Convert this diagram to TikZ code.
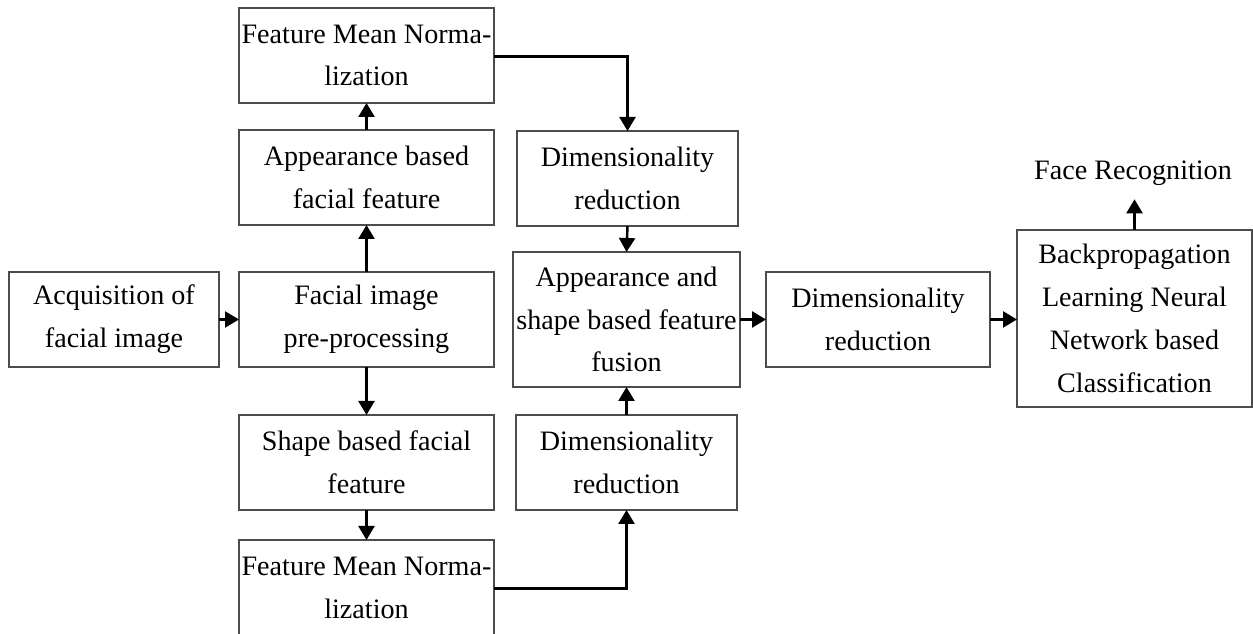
\documentclass[tikz,border=0pt]{standalone}
\usepackage{fontspec}
\setmainfont{Liberation Serif}
\usetikzlibrary{arrows.meta, positioning, calc}

\begin{document}
\begin{tikzpicture}[
  block/.style={
    rectangle, draw=black!70, line width=1.2pt, fill=white, outer sep=0pt,
    inner xsep=0pt, minimum height=1.9cm, align=center,
    font=\fontsize{16}{24.4}\selectfont,
  },
  link/.style={-{Triangle[length=0.28cm, width=0.32cm]}, line width=1.4pt, black},
]
  \useasboundingbox (0,0) rectangle (25.06,12.68);

  % left column
  \node[block, minimum width=4.2cm] (acq) at (2.28,6.29) {Acquisition of\\facial image};
  \node[block, minimum width=5.1cm] (pre) at (7.33,6.29) {Facial image\\pre-processing};
  \node[block, minimum width=5.1cm] (app) at (7.33,9.13) {Appearance based\\facial feature};
  \node[block, minimum width=5.1cm] (fmnA) at (7.33,11.57) {Feature Mean Norma-\\lization};
  \node[block, minimum width=5.1cm] (shp) at (7.33,3.43) {Shape based facial\\feature};
  \node[block, minimum width=5.1cm] (fmnS) at (7.33,0.93) {Feature Mean Norma-\\lization};

  % middle column
  \node[block, minimum width=4.42cm] (drA) at (12.55,9.11) {Dimensionality\\reduction};
  \node[block, minimum width=4.54cm, minimum height=2.7cm] (fus) at (12.53,6.29)
    {Appearance and\\shape based feature\\fusion};
  \node[block, minimum width=4.42cm] (drS) at (12.53,3.43) {Dimensionality\\reduction};

  % right part
  \node[block, minimum width=4.48cm] (drF) at (17.56,6.29) {Dimensionality\\reduction};
  \node[block, minimum width=4.7cm, minimum height=3.54cm] (bp) at (22.69,6.31)
    {Backpropagation\\Learning Neural\\Network based\\Classification};
  \node[font=\fontsize{16}{24.4}\selectfont, minimum height=1.04cm, inner sep=0pt] (face)
    at (22.66,9.22) {Face Recognition};

  % arrows
  \draw[link] (acq.east) -- (pre.west);
  \draw[link] (pre.north) -- (app.south);
  \draw[link] (app.north) -- (fmnA.south);
  \draw[link] (pre.south) -- (shp.north);
  \draw[link] (shp.south) -- (fmnS.north);
  \draw[link] ($(fmnA.east)+(0,-0.02)$) -| (drA.north);
  \draw[link] ($(fmnS.east)+(0,-0.02)$) -| (drS.south);
  \draw[link] (drA.south) -- (fus.north);
  \draw[link] (drS.north) -- (fus.south);
  \draw[link] (fus.east) -- (drF.west);
  \draw[link] (drF.east) -- (drF.east -| bp.west);
  \draw[link] (bp.north) -- (bp.north |- face.south);
\end{tikzpicture}
\end{document}
